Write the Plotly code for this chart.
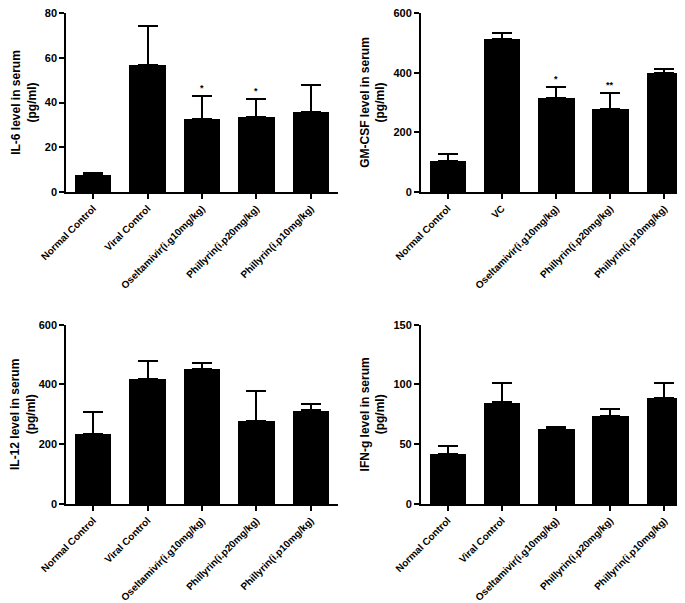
import plotly.graph_objects as go

categories_a = ["Normal Control", "Viral Control", "Oseltamivir(i.g10mg/kg)",
                "Phillyrin(i.p20mg/kg)", "Phillyrin(i.p10mg/kg)"]
categories_b = ["Normal Control", "VC", "Oseltamivir(i.g10mg/kg)",
                "Phillyrin(i.p20mg/kg)", "Phillyrin(i.p10mg/kg)"]

il6_mean = [7.8, 56.9, 32.8, 33.4, 35.8]
il6_err = [0.6, 17.5, 10.0, 8.0, 12.0]
il6_sig = ["", "", "*", "*", ""]

gmcsf_mean = [105, 513, 316, 279, 398]
gmcsf_err = [22, 19, 35, 52, 15]
gmcsf_sig = ["", "", "*", "**", ""]

il12_mean = [235, 419, 453, 279, 313]
il12_err = [74, 61, 19, 99, 21]

ifng_mean = [42.1, 85.0, 63.3, 73.9, 88.7]
ifng_err = [6.1, 16.2, 1.4, 5.8, 12.5]

panels = [
    dict(cats=categories_a, mean=il6_mean, err=il6_err, sig=il6_sig,
         title="IL-6 level in serum<br>(pg/ml)", ticks=[0, 20, 40, 60, 80], ymax=80,
         xdom=[58/685, 330/685], ydom=[1-184/603, 1-5/603]),
    dict(cats=categories_b, mean=gmcsf_mean, err=gmcsf_err, sig=gmcsf_sig,
         title="GM-CSF level in serum<br>(pg/ml)", ticks=[0, 200, 400, 600], ymax=600,
         xdom=[412.7/685, 683.5/685], ydom=[1-184/603, 1-5/603]),
    dict(cats=categories_a, mean=il12_mean, err=il12_err, sig=None,
         title="IL-12 level in serum<br>(pg/ml)", ticks=[0, 200, 400, 600], ymax=600,
         xdom=[58/685, 330/685], ydom=[1-496/603, 1-316.7/603]),
    dict(cats=categories_a, mean=ifng_mean, err=ifng_err, sig=None,
         title="IFN-g level in serum<br>(pg/ml)", ticks=[0, 50, 100, 150], ymax=150,
         xdom=[412.7/685, 683.5/685], ydom=[1-496/603, 1-316.7/603]),
]

FONT = "Liberation Sans, Arial, sans-serif"
fig = go.Figure()
annotations = []
for i, p in enumerate(panels, start=1):
    xa = "x" if i == 1 else f"x{i}"
    ya = "y" if i == 1 else f"y{i}"
    fig.add_trace(go.Bar(
        x=list(range(len(p["cats"]))), y=p["mean"], xaxis=xa, yaxis=ya,
        width=0.67, marker=dict(color="black", line=dict(width=0)),
        error_y=dict(type="data", array=p["err"], arrayminus=[0]*len(p["err"]),
                     symmetric=False, color="black", thickness=2, width=10),
        showlegend=False, hoverinfo="skip"))
    common = dict(showline=True, linecolor="black", linewidth=1.5, ticks="outside",
                  tickcolor="black", tickwidth=1.5, ticklen=5, showgrid=False,
                  zeroline=False, automargin=False, ticklabeloverflow="allow")
    fig.layout[f"xaxis{'' if i == 1 else i}"] = dict(
        domain=p["xdom"], anchor=ya, range=[-0.5, 4.5],
        tickmode="array", tickvals=list(range(len(p["cats"]))),
        ticktext=[f"<b>{c}</b>" for c in p["cats"]], tickangle=-45,
        tickfont=dict(family=FONT, size=10, color="black"), **common)
    fig.layout[f"yaxis{'' if i == 1 else i}"] = dict(
        domain=p["ydom"], anchor=xa, range=[0, p["ymax"]],
        tickmode="array", tickvals=p["ticks"],
        ticktext=[f"<b>{t}</b>" for t in p["ticks"]],
        tickfont=dict(family=FONT, size=11, color="black"),
        title=dict(text=f"<b>{p['title']}</b>", standoff=6,
                   font=dict(family=FONT, size=12, color="black")), **common)
    if p["sig"]:
        for j, s in enumerate(p["sig"]):
            if s:
                annotations.append(dict(
                    x=j, y=p["mean"][j] + p["err"][j], xref=xa, yref=ya,
                    text=f"<b>{s}</b>", showarrow=False, yanchor="bottom",
                    yshift=1, font=dict(family=FONT, size=9, color="black")))

fig.update_layout(width=685, height=603, margin=dict(l=0, r=0, t=0, b=0),
                  plot_bgcolor="white", paper_bgcolor="white",
                  annotations=annotations, bargap=0)
fig.write_html("out.html")
